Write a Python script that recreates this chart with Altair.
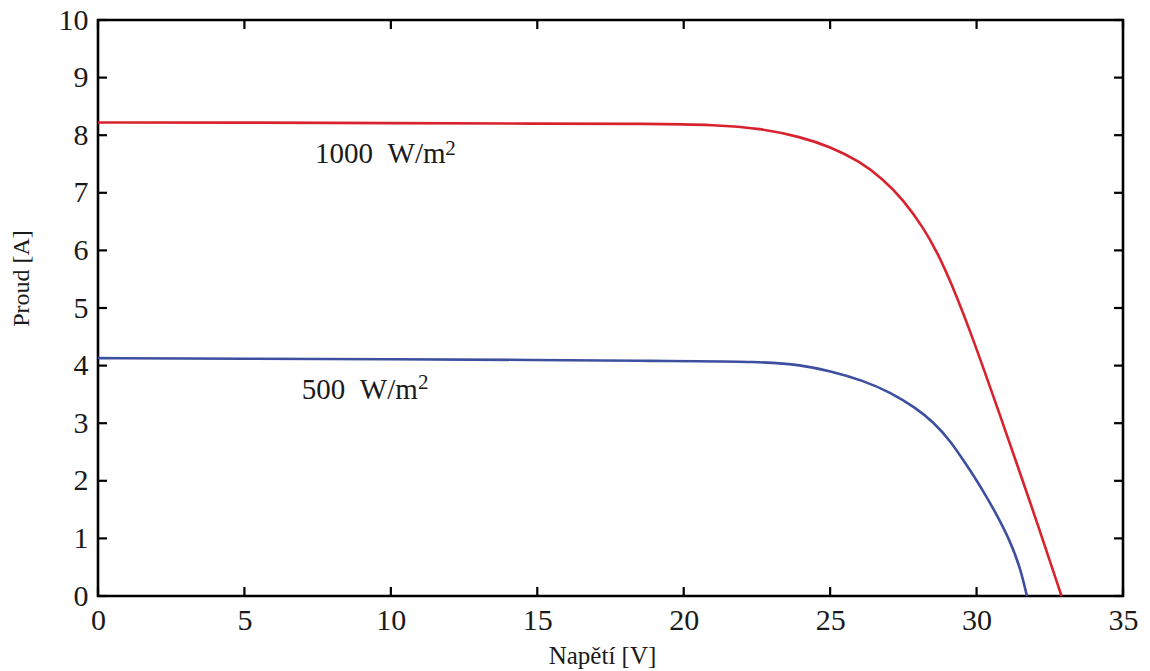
import altair as alt
import pandas as pd

# Red curve: 1000 W/m2
v_1000 = [0, 5, 10, 15, 18.85, 21.1, 22.6, 24.0, 25.0, 26.0, 26.8, 27.5, 28.2, 28.65, 29.1, 29.8, 30.6, 31.4, 32.15, 32.9]
i_1000 = [8.22, 8.22, 8.21, 8.20, 8.20, 8.18, 8.12, 7.97, 7.80, 7.55, 7.24, 6.88, 6.38, 5.97, 5.48, 4.58, 3.43, 2.26, 1.15, 0.0]

# Blue curve: 500 W/m2
v_500 = [0, 5, 10, 15, 18.85, 22.83, 23.97, 24.99, 26.13, 27.04, 27.95, 28.52, 29.09, 29.77, 30.22, 30.68, 31.14, 31.48, 31.72]
i_500 = [4.13, 4.12, 4.11, 4.10, 4.08, 4.07, 4.01, 3.91, 3.74, 3.54, 3.26, 3.02, 2.71, 2.19, 1.83, 1.42, 0.96, 0.51, 0.0]

series_names = ["1000 W/m2", "500 W/m2"]
series_colors = ["#d8232f", "#3d4f9f"]

x_ticks = [0, 5, 10, 15, 20, 25, 30, 35]
y_ticks = [0, 1, 2, 3, 4, 5, 6, 7, 8, 9, 10]

ann_text = ["1000\u00a0\u00a0W/m", "500\u00a0\u00a0W/m"]
ann_x = [7.41, 6.96]
ann_y = [7.52, 3.42]
sup_text = ["2", "2"]
sup_x = [11.86, 10.93]
sup_y = [7.66, 3.59]

W, H = 1025, 576
FONT = "Liberation Serif"

rows = []
for v, i in zip(v_1000, i_1000):
    rows.append({"V": v, "I": i, "s": series_names[0]})
for v, i in zip(v_500, i_500):
    rows.append({"V": v, "I": i, "s": series_names[1]})
df = pd.DataFrame(rows)

xs = alt.Scale(domain=[0, 35], nice=False, zero=False)
ys = alt.Scale(domain=[0, 10], nice=False, zero=False)

x_axis = alt.Axis(
    values=x_ticks, format="d", ticks=False, tickSize=0, domain=False, grid=False,
    labelFont=FONT, labelFontSize=30, labelColor="#1a1a1a", labelPadding=9,
    labelFlush=False, labelOverlap=False,
    title="Napětí [V]", titleFont=FONT, titleFontSize=25, titleFontWeight="normal",
    titleColor="#1a1a1a", titleX=504, titleY=67, titleAnchor="middle",
    titleAlign="center", titleBaseline="alphabetic",
)
y_axis = alt.Axis(
    values=y_ticks, format="d", ticks=False, tickSize=0, domain=False, grid=False,
    labelFont=FONT, labelFontSize=30, labelColor="#1a1a1a", labelPadding=10,
    labelFlush=False, labelOverlap=False,
    title="Proud [A]", titleFont=FONT, titleFontSize=24, titleFontWeight="normal",
    titleColor="#1a1a1a", titleX=-70, titleY=258, titleAngle=270,
    titleAlign="center", titleBaseline="alphabetic",
)

lines = alt.Chart(df).mark_line(strokeWidth=2.6, interpolate="basis").encode(
    x=alt.X("V:Q", scale=xs, axis=x_axis),
    y=alt.Y("I:Q", scale=ys, axis=y_axis),
    color=alt.Color("s:N", scale=alt.Scale(domain=series_names, range=series_colors), legend=None),
    detail="s:N",
)

xt = pd.DataFrame({"t": x_ticks})
yt = pd.DataFrame({"t": y_ticks})
TL = 9
tick_style = dict(color="black", strokeWidth=2.2)

xb = alt.Chart(xt).mark_rule(**tick_style).encode(
    x=alt.X("t:Q", scale=xs), y=alt.value(H), y2=alt.value(H - TL))
xtop = alt.Chart(xt).mark_rule(**tick_style).encode(
    x=alt.X("t:Q", scale=xs), y=alt.value(0), y2=alt.value(TL))
yl = alt.Chart(yt).mark_rule(**tick_style).encode(
    y=alt.Y("t:Q", scale=ys), x=alt.value(0), x2=alt.value(TL))
yr = alt.Chart(yt).mark_rule(**tick_style).encode(
    y=alt.Y("t:Q", scale=ys), x=alt.value(W), x2=alt.value(W - TL))

ann_df = pd.DataFrame({"x": ann_x, "y": ann_y, "t": ann_text})
sup_df = pd.DataFrame({"x": sup_x, "y": sup_y, "t": sup_text})

ann = alt.Chart(ann_df).mark_text(
    font=FONT, fontSize=29, align="left", baseline="alphabetic", color="#1a1a1a"
).encode(x=alt.X("x:Q", scale=xs), y=alt.Y("y:Q", scale=ys), text="t:N")
sup = alt.Chart(sup_df).mark_text(
    font=FONT, fontSize=21, align="left", baseline="alphabetic", color="#1a1a1a"
).encode(x=alt.X("x:Q", scale=xs), y=alt.Y("y:Q", scale=ys), text="t:N")

chart = alt.layer(lines, xb, xtop, yl, yr, ann, sup).properties(
    width=W, height=H,
    autosize=alt.AutoSizeParams(type="none"),
    padding={"left": 90, "top": 12, "right": 17, "bottom": 80},
    background="white",
).configure_view(stroke="black", strokeWidth=2.6)

chart.save("out.html", embed_options={"renderer": "svg", "actions": False})
